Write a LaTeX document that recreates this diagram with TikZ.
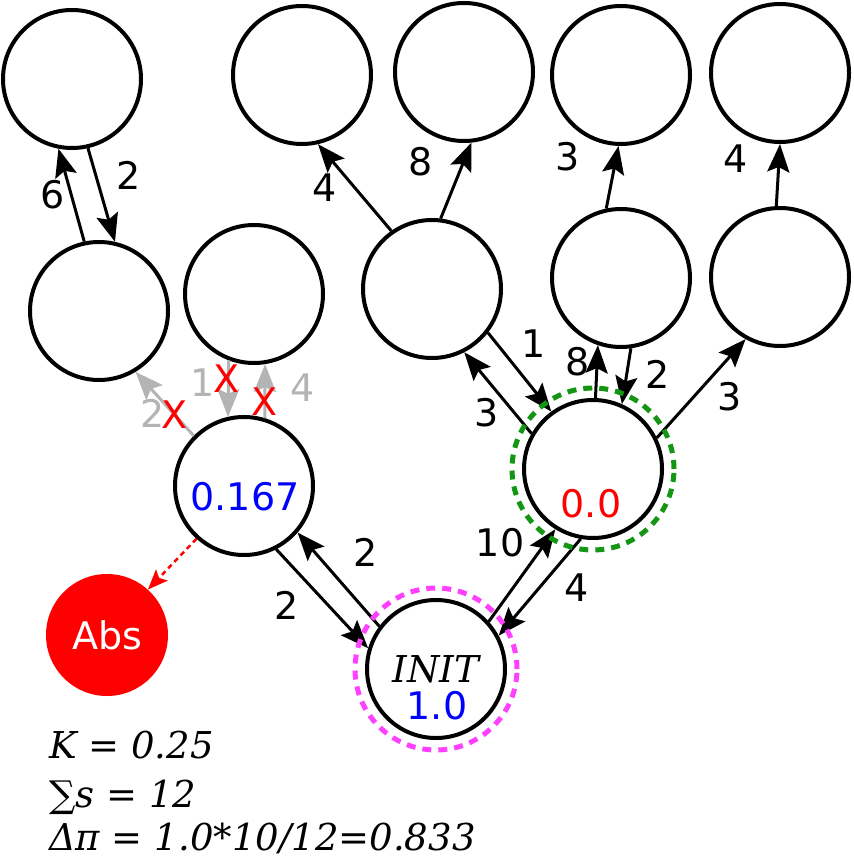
\documentclass[tikz,border=0pt]{standalone}
\usepackage{fontspec}
\setmainfont{DejaVu Sans}
\newfontfamily\notefont{DejaVu Serif}
\usetikzlibrary{arrows.meta}
\definecolor{ringgreen}{RGB}{20,150,20}
\definecolor{ringpink}{RGB}{255,64,255}
\definecolor{cutgray}{RGB}{180,180,180}
\tikzset{every node/.append style={font=\fontsize{38}{44}\selectfont}}

\begin{document}
\begin{tikzpicture}[x=1pt, y=-1pt, >={Stealth[length=28pt,width=22pt,inset=5pt]},
    state/.style={circle, draw, line width=4pt, minimum size=138pt, inner sep=0pt},
    move/.style={->, line width=3pt},
    cut/.style={move, cutgray},
    ring/.style={line width=5pt, dash pattern=on 9pt off 7pt},
    wt/.style={inner sep=0pt},
    note/.style={anchor=base west, inner sep=0pt, font=\fontsize{37}{44}\selectfont\notefont\itshape}]
  \useasboundingbox (0,0) rectangle (853,858);

  % states
  \node[state] (tlt) at (72,79) {};
  \node[state] (tlb) at (99,311) {};
  \node[state] (mu) at (254,294) {};
  \node[state] (t1) at (302,75) {};
  \node[state] (t2) at (464,72) {};
  \node[state] (t3) at (621,75) {};
  \node[state] (t4) at (780,73) {};
  \node[state] (m1) at (432,289) {};
  \node[state] (m2) at (621,278) {};
  \node[state] (m3) at (780,277) {};
  \node[state] (g) at (593,469) {};
  \node[state] (p) at (244,486) {};
  \node[state] (init) at (436,669) {};
  \node[circle, fill=red, minimum size=122pt, inner sep=0pt, text=white] (abs) at (107,635) {Abs};

  % values inside the states
  \node[wt, blue] (pv) at (245,497) {0.167};
  \node[wt, red] (gv) at (591,504) {0.0};
  \node[wt, font=\fontsize{37}{44}\selectfont\notefont\itshape] (initname) at (436,669) {INIT};
  \node[wt, blue] (initv) at (437,706) {1.0};

  % moves
  \draw[move] (tlb.102) -- (tlt.259);
  \draw[move] (tlt.283) -- (tlb.77);
  \draw[move] (m1.125) -- (t1.283);
  \draw[move] (m1.83) -- (t2.276);
  \draw[move] (m2.102) -- (t3.268);
  \draw[move] (m3.93) -- (t4.270);
  \draw[move] (m1.322) -- (g.126);
  \draw[move] (g.150) -- (m1.297);
  \draw[move] (g.88) -- (m2.251);
  \draw[move] (m2.278) -- (g.66);
  \draw[move] (g.26) -- (m3.241);
  \draw[move] (init.143) -- (p.319);
  \draw[move] (p.297) -- (init.163);
  \draw[move] (init.42) -- (g.238);
  \draw[move] (g.260) -- (init.28);
  \draw[cut] (p.135) -- (tlb.301);
  \draw[cut] (mu.249) -- (p.103);
  \draw[cut] (p.73) -- (mu.279);
  \draw[-{Stealth[length=20pt,width=16pt,inset=4pt]}, red, line width=2.5pt, dash pattern=on 5pt off 4pt] (p.228) -- (abs.48);

  % weights
  \node[wt] (w6) at (53,195) {6};
  \node[wt] (w2a) at (129,175) {2};
  \node[wt] (w4a) at (325,188) {4};
  \node[wt] (w8a) at (421,162) {8};
  \node[wt] (w3a) at (568,157) {3};
  \node[wt] (w4b) at (736,159) {4};
  \node[wt] (w1) at (534,344) {1};
  \node[wt] (w8b) at (578,362) {8};
  \node[wt] (w2b) at (658,374) {2};
  \node[wt] (w3b) at (730,397) {3};
  \node[wt] (w3c) at (487,413) {3};
  \node[wt] (w10) at (500,543) {10};
  \node[wt] (w4c) at (577,588) {4};
  \node[wt] (w2c) at (366,552) {2};
  \node[wt] (w2d) at (287,605) {2};
  \node[wt, cutgray] (g2) at (153,413) {2};
  \node[wt, cutgray] (g1) at (203,383) {1};
  \node[wt, cutgray] (g4) at (303,388) {4};
  \node[wt, red] (x1) at (227,379) {X};
  \node[wt, red] (x2) at (265,402) {X};
  \node[wt, red] (x3) at (175,415) {X};

  % rings
  \draw[ring, ringgreen] (g) circle (81pt);
  \draw[ring, ringpink] (init) circle (81pt);

  \node[note] (kline) at (49,758) {K = 0.25};
  \node[note] (sline) at (49,807) {∑s = 12};
  \node[note] (dline) at (49,850) {Δπ = 1.0*10/12=0.833};
\end{tikzpicture}
\end{document}
